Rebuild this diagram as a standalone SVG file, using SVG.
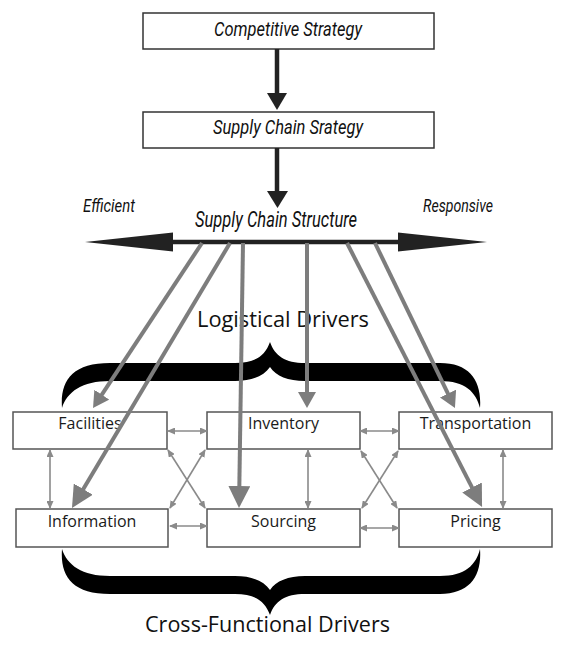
<svg xmlns="http://www.w3.org/2000/svg" width="575" height="657" viewBox="0 0 575 657">
<defs>
<style>
.topbox{fill:#fff;stroke:#333;stroke-width:1.5}
.box{fill:#fff;stroke:#555;stroke-width:1.5}
.lbl{font-family:"Open Sans","Noto Sans",sans-serif;font-size:16px;fill:#1a1a1a;text-anchor:middle}
.it{font-family:Roboto,"Liberation Sans",sans-serif;font-style:italic;font-weight:400;fill:#111}
.big{font-family:"Open Sans","Noto Sans",sans-serif;font-size:21px;fill:#111}
.brace{fill:#000}
.g{stroke:#7d7d7d;stroke-width:4;fill:none}
.gs{marker-end:url(#gs)}
.gl{marker-end:url(#gl)}
.s{stroke:#8a8a8a;stroke-width:1.6;fill:none;marker-start:url(#sa);marker-end:url(#sa)}
.k{stroke:#222;stroke-width:4.5;fill:none}
.kh{fill:#222}
</style>
<marker id="gs" markerUnits="userSpaceOnUse" markerWidth="16" markerHeight="18" viewBox="0 0 16 18" refX="3" refY="9" orient="auto"><path d="M0,0 L16,9 L0,18 z" fill="#7d7d7d"/></marker>
<marker id="gl" markerUnits="userSpaceOnUse" markerWidth="22" markerHeight="22" viewBox="0 0 22 22" refX="3" refY="11" orient="auto"><path d="M0,0 L22,11 L0,22 z" fill="#7d7d7d"/></marker>
<marker id="sa" markerUnits="userSpaceOnUse" markerWidth="8" markerHeight="7" viewBox="0 0 8 7" refX="7" refY="3.5" orient="auto-start-reverse"><path d="M0,0 L8,3.5 L0,7 z" fill="#8a8a8a"/></marker>
<path id="bracePath" d="M62,408 C60,381 72,363 110,363 L235,363 C255,363 265,356 270,342 C275,356 285,363 305,363 L440,363 C470,363 482,381 480,408 C476,392 465,381 440,381 L305,381 C288,381 276,376 270,367 C264,376 252,381 235,381 L110,381 C82,381 67,392 62,408 Z"/>
</defs>
<rect width="575" height="657" fill="#fff"/>

<g id="competitive-strategy">
<rect class="topbox" x="143" y="13" width="291" height="36"/>
<text class="it" x="214" y="36" font-size="20" textLength="148" lengthAdjust="spacingAndGlyphs">Competitive Strategy</text>
</g>
<g id="supply-chain-strategy">
<rect class="topbox" x="143" y="112" width="291" height="36"/>
<text class="it" x="213" y="134" font-size="20" textLength="150" lengthAdjust="spacingAndGlyphs">Supply Chain Srategy</text>
</g>
<g id="supply-chain-structure">
<text class="it" x="83" y="212" font-size="19" textLength="52" lengthAdjust="spacingAndGlyphs">Efficient</text>
<text class="it" x="195" y="227" font-size="22" textLength="162" lengthAdjust="spacingAndGlyphs">Supply Chain Structure</text>
<text class="it" x="423" y="212" font-size="19" textLength="70" lengthAdjust="spacingAndGlyphs">Responsive</text>
</g>

<g id="logistical-drivers">
<text class="big" x="197" y="327" textLength="172" lengthAdjust="spacingAndGlyphs">Logistical Drivers</text>
<use href="#bracePath" class="brace"/>
</g>
<g id="cross-functional-drivers">
<use href="#bracePath" class="brace" transform="translate(0,957) scale(1,-1)"/>
<text class="big" x="145" y="632" textLength="245" lengthAdjust="spacingAndGlyphs">Cross-Functional Drivers</text>
</g>

<g id="facilities"><rect class="box" x="13" y="412" width="154" height="37"/><text class="lbl" x="90" y="429">Facilities</text></g>
<g id="inventory"><rect class="box" x="207" y="412" width="153" height="37"/><text class="lbl" x="283.5" y="429">Inventory</text></g>
<g id="transportation"><rect class="box" x="399" y="412" width="153" height="37"/><text class="lbl" x="475.5" y="429">Transportation</text></g>
<g id="information"><rect class="box" x="16" y="509" width="152" height="38"/><text class="lbl" x="92" y="527">Information</text></g>
<g id="sourcing"><rect class="box" x="207" y="509" width="153" height="38"/><text class="lbl" x="283.5" y="527">Sourcing</text></g>
<g id="pricing"><rect class="box" x="399" y="509" width="153" height="38"/><text class="lbl" x="475.5" y="527">Pricing</text></g>

<g id="connectors">
<line class="k" x1="277" y1="49" x2="277" y2="95"/>
<polygon class="kh" points="267,93 287,93 277,110"/>
<line class="k" x1="277" y1="148" x2="277" y2="193"/>
<polygon class="kh" points="267,191 288,191 277.5,208"/>
<line class="k" x1="170" y1="242" x2="400" y2="242"/>
<polygon class="kh" points="85,242 173,232.5 173,251.5"/>
<polygon class="kh" points="487,242 398,232.5 398,251.5"/>

<line class="g gs" x1="202" y1="243" x2="100.2" y2="397.2"/>
<line class="g gl" x1="230" y1="243" x2="81.7" y2="491.7"/>
<line class="g gl" x1="243" y1="243" x2="239.3" y2="489"/>
<line class="g gs" x1="307" y1="243" x2="307" y2="395"/>
<line class="g gs" x1="375" y1="243" x2="449.3" y2="396.3"/>
<line class="g gl" x1="347" y1="243" x2="473.4" y2="490.1"/>

<line class="s" x1="168" y1="431" x2="207" y2="431"/>
<line class="s" x1="360" y1="431" x2="399" y2="431"/>
<line class="s" x1="170" y1="526" x2="207" y2="526"/>
<line class="s" x1="360" y1="528" x2="399" y2="528"/>
<line class="s" x1="50" y1="450" x2="50" y2="508"/>
<line class="s" x1="308" y1="450" x2="308" y2="508"/>
<line class="s" x1="503" y1="450" x2="503" y2="508"/>
<line class="s" x1="168" y1="450" x2="205" y2="508"/>
<line class="s" x1="170" y1="508" x2="205" y2="450"/>
<line class="s" x1="361" y1="451" x2="397" y2="508"/>
<line class="s" x1="362" y1="508" x2="398" y2="451"/>
</g>
</svg>
